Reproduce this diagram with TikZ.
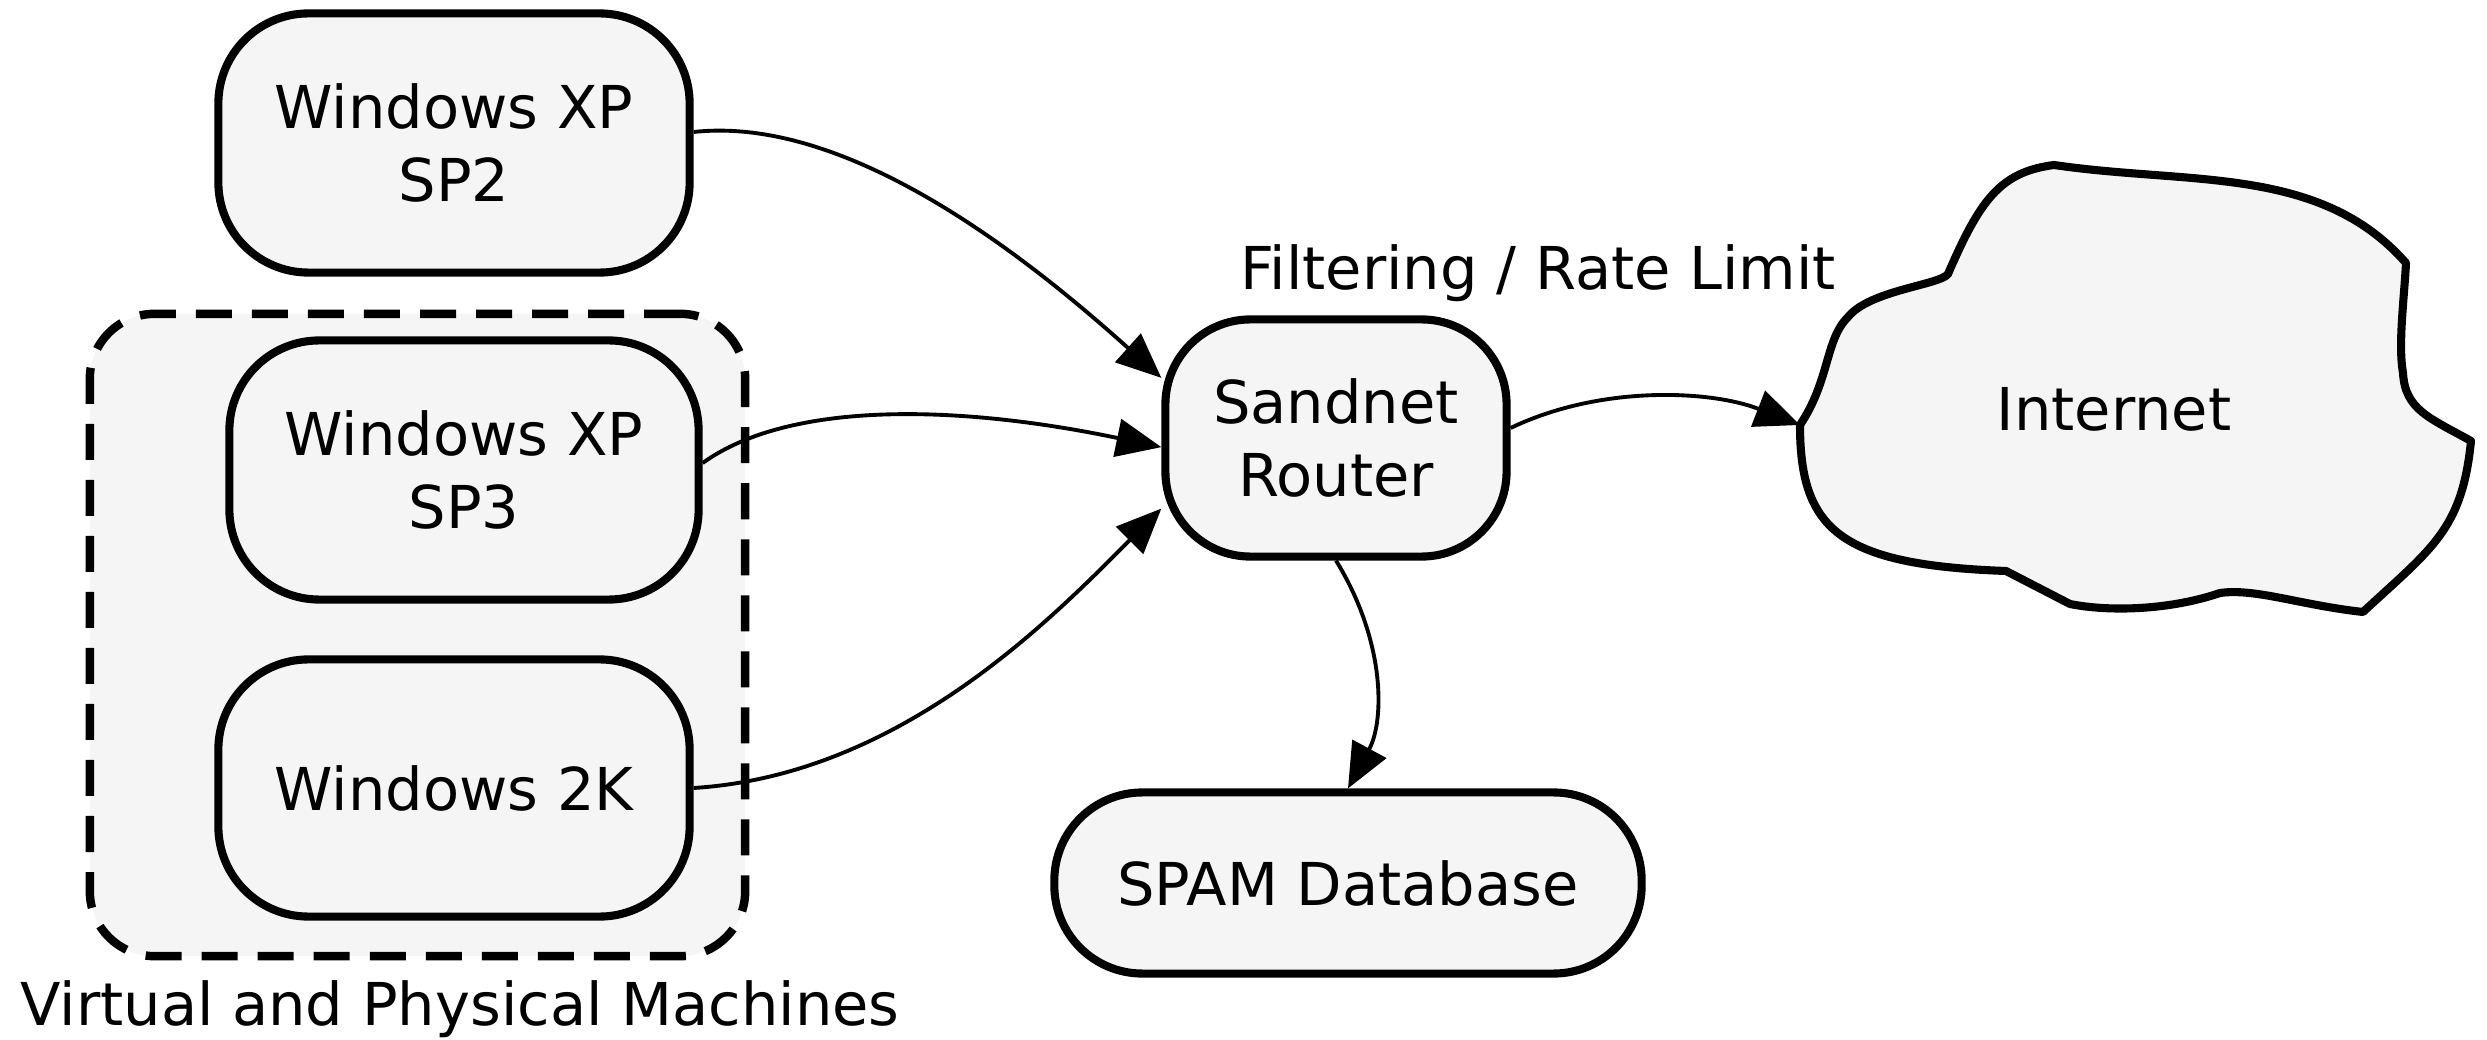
\documentclass[tikz,border=0pt]{standalone}
\usepackage{fontspec}
\setmainfont{DejaVu Sans}
\usetikzlibrary{arrows.meta}
\definecolor{fillgray}{HTML}{F5F5F5}
\begin{document}
\begin{tikzpicture}[x=0.01cm,y=-0.01cm,
  every node/.style={font=\fontsize{16.8}{21}\selectfont},
  osbox/.style={draw, line width=2.3pt, fill=fillgray, rounded corners=0.9cm,
    minimum width=4.71cm, minimum height=2.59cm, align=center, inner sep=0pt},
  conn/.style={line width=1.1pt, -{Triangle[length=0.45cm,width=0.38cm]}},
  groupbox/.style={draw, line width=2.4pt, dash pattern=on 0.36cm off 0.2cm,
    fill=fillgray, rounded corners=0.65cm, inner sep=0pt},
  cloudline/.style={draw, line width=2.3pt, fill=fillgray, line join=round}
]
\useasboundingbox (0,0) rectangle (2487,1040);

% group
\node[groupbox, minimum width=6.55cm, minimum height=6.42cm] (group) at (417.5,635) {};
\node (vlabel) at (460,1009) {Virtual and Physical Machines};

% OS boxes
\node[osbox] (sp2) at (454,143) {Windows XP\\SP2};
\node[osbox, minimum width=4.69cm] (sp3) at (464,470) {Windows XP\\SP3};
\node[osbox, minimum height=2.57cm] (w2k) at (454,788) {Windows 2K};

% router
\node[osbox, minimum width=3.41cm, minimum height=2.37cm, rounded corners=0.85cm] (router) at (1336,438) {Sandnet\\Router};
\node (flabel) at (1538,273) {Filtering / Rate Limit};

% spam database
\node[osbox, minimum width=5.87cm, minimum height=1.81cm, rounded corners=0.88cm] (spam) at (1348,883) {SPAM Database};

% cloud
\path[cloudline] (2054,165)
  .. controls (2190,185) and (2320,165) .. (2406,263)
  .. controls (2404,300) and (2398,345) .. (2403,373)
  .. controls (2405,410) and (2430,418) .. (2471,441)
  .. controls (2462,530) and (2432,548) .. (2363,612)
  .. controls (2300,605) and (2255,588) .. (2220,593)
  .. controls (2170,610) and (2110,612) .. (2070,604)
  -- (2006,571)
  .. controls (1840,565) and (1800,530) .. (1800,425)
  .. controls (1830,380) and (1825,340) .. (1848,317)
  .. controls (1870,290) and (1940,285) .. (1948,274)
  .. controls (1980,200) and (2000,172) .. cycle;
\node (inet) at (2114,409) {Internet};
\coordinate (inetL) at (1800,425);

% connectors
\draw[conn] ([yshift=0.11cm]sp2.east) .. controls (850,115) and (1030,260) .. (router.161);
\draw[conn] ([yshift=0.07cm]sp3.east) .. controls (790,400) and (960,405) .. (router.183);
\draw[conn] (w2k.east) .. controls (900,775) and (1050,620) .. (router.202);
\draw[conn] ([yshift=0.1cm]router.east) .. controls (1600,385) and (1710,390) .. (inetL);
\draw[conn] (router.south) .. controls (1385,640) and (1385,720) .. (spam.north);
\end{tikzpicture}
\end{document}
